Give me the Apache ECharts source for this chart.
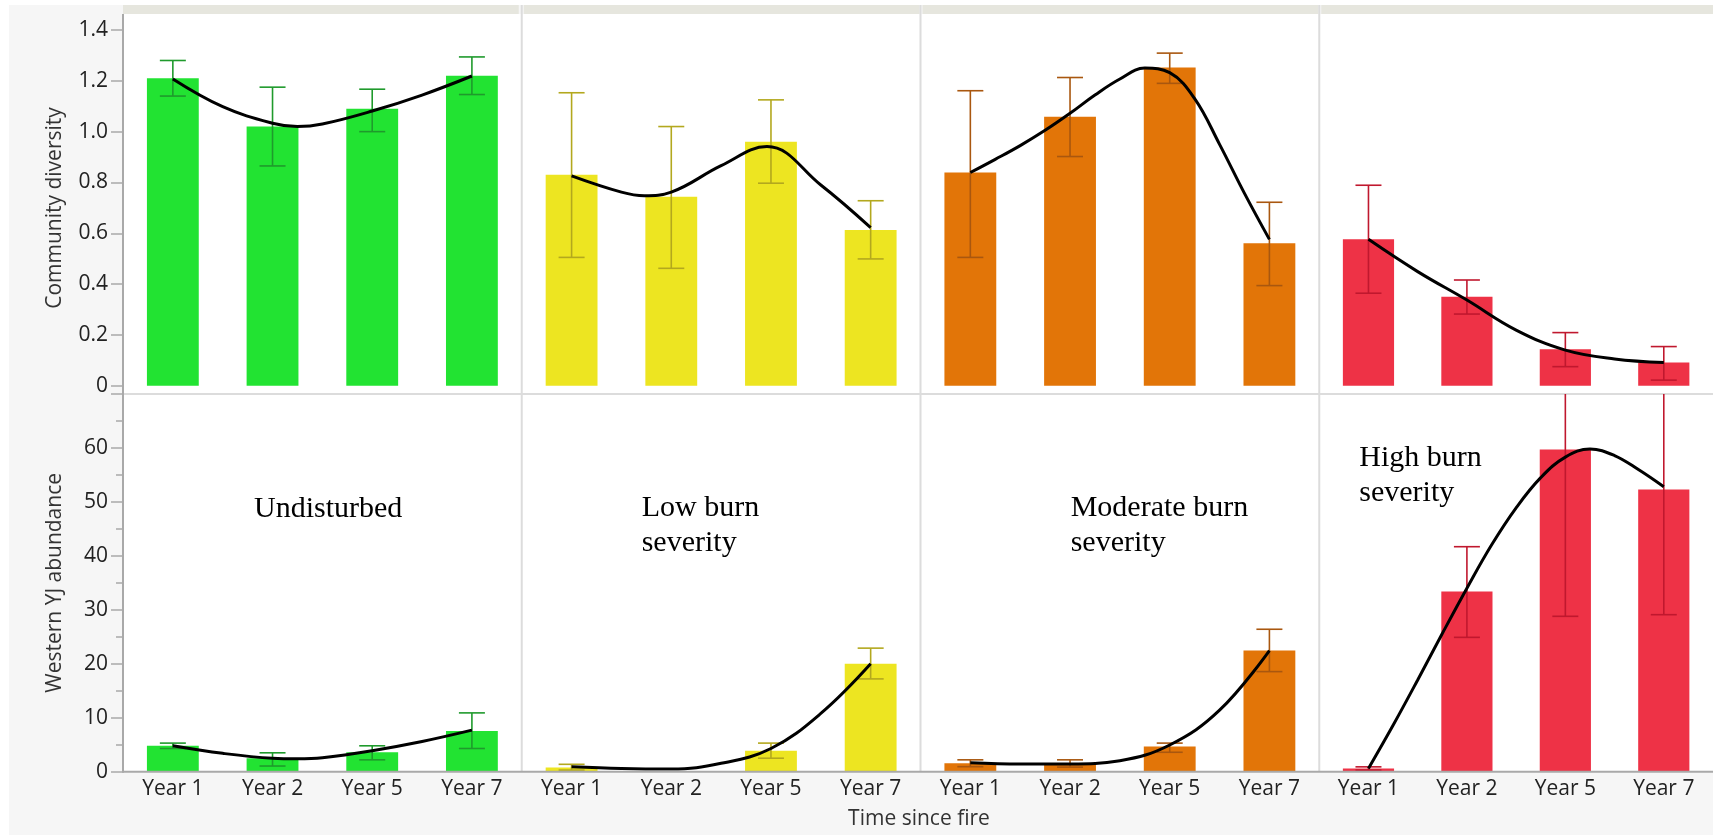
<!DOCTYPE html>
<html>
<head>
<meta charset="utf-8">
<script src="https://cdn.jsdelivr.net/npm/echarts@6/dist/echarts.min.js"></script>
<style>
html,body{margin:0;padding:0;background:#ffffff;}
#chart{width:1713px;height:835px;}
</style>
</head>
<body>
<div id="chart"></div>
<script>
// ---------------- DATA ----------------
const categories = ['Year 1', 'Year 2', 'Year 5', 'Year 7'];
const groupLabels = ['Undisturbed', 'Low burn\nseverity', 'Moderate burn\nseverity', 'High burn\nseverity'];
const groupColors = ['#22e332', '#ede521', '#e27508', '#ee3246'];
const errorColors = ['#1f9a2c', '#b3a81e', '#a9570f', '#c0182e'];

// Community diversity (top row): means, lower and upper error limits per group
const divMean = [
  [1.21, 1.02, 1.09, 1.22],
  [0.83, 0.744, 0.96, 0.613],
  [0.839, 1.059, 1.252, 0.561],
  [0.576, 0.35, 0.143, 0.091]
];
const divLow = [
  [1.14, 0.865, 1.0, 1.146],
  [0.505, 0.462, 0.797, 0.499],
  [0.505, 0.902, 1.19, 0.394],
  [0.364, 0.282, 0.075, 0.022]
];
const divHigh = [
  [1.28, 1.175, 1.167, 1.294],
  [1.153, 1.02, 1.125, 0.728],
  [1.161, 1.213, 1.309, 0.722],
  [0.789, 0.416, 0.209, 0.154]
];
// smoothed trend curves: [position in category units, value]
const divCurve = [
  [[0, 1.207], [0.5, 1.098], [1, 1.033], [1.25, 1.02], [1.5, 1.03], [2, 1.081], [2.5, 1.144], [3, 1.219]],
  [[0, 0.826], [0.5, 0.762], [0.73, 0.748], [1, 0.762], [1.5, 0.866], [1.96, 0.941], [2.5, 0.79], [3, 0.622]],
  [[0, 0.839], [0.25, 0.891], [0.5, 0.945], [0.75, 1.005], [1, 1.072], [1.25, 1.144], [1.5, 1.207], [1.75, 1.25], [2, 1.232], [2.25, 1.13], [2.5, 0.95], [2.75, 0.757], [3, 0.576]],
  [[0, 0.576], [0.5, 0.449], [1, 0.337], [1.5, 0.219], [2, 0.14], [2.5, 0.105], [3, 0.091]]
];

// Western YJ abundance (bottom row)
const abuMean = [
  [4.8, 2.5, 3.6, 7.55],
  [0.8, 0, 3.9, 20.0],
  [1.55, 1.55, 4.65, 22.45],
  [0.6, 33.4, 59.7, 52.3]
];
const abuLow = [
  [4.3, 1.05, 2.2, 4.3],
  [0.3, null, 2.5, 17.2],
  [0.93, 0.85, 3.6, 18.55],
  [0.3, 24.9, 28.8, 29.1]
];
const abuHigh = [
  [5.3, 3.5, 4.8, 10.9],
  [1.37, null, 5.3, 22.9],
  [2.2, 2.2, 5.3, 26.4],
  [0.9, 41.7, 90.6, 75.5]
];
const abuCurve = [
  [[0, 4.8], [0.5, 3.4], [1, 2.5], [1.25, 2.4], [1.5, 2.6], [2, 3.9], [2.5, 5.6], [3, 7.7]],
  [[0, 0.93], [0.5, 0.6], [1, 0.5], [1.5, 1.55], [2, 4.3], [2.5, 10.8], [3, 20.0]],
  [[0, 1.67], [0.5, 1.43], [1, 1.43], [1.5, 2.04], [2, 4.95], [2.5, 11.4], [3, 22.45]],
  [[0, 0.6], [0.25, 8.6], [0.5, 17.0], [0.75, 25.6], [1, 34.0], [1.25, 42.0], [1.5, 48.9], [1.75, 54.5], [2, 58.3], [2.25, 59.8], [2.5, 58.6], [2.75, 55.9], [3, 52.8]]
];

const divAxis = {min: 0, max: 1.4, interval: 0.2};
const abuAxis = {min: 0, max: 70, interval: 10};
const yTitles = ['Community diversity', 'Western YJ abundance'];
const xTitle = 'Time since fire';

// ---------------- LAYOUT ----------------
const L = 123, W = 398.75;
const PANEL_TOP = 14;
const TOP_GRID_T = 30, TOP_GRID_H = 355.7;
const BOT_GRID_T = 394, BOT_GRID_H = 377.7;
const BOT_AXIS_Y = BOT_GRID_T + BOT_GRID_H;
const RIGHT = L + 4 * W;
const FONT = '"Open Sans", "Noto Sans", sans-serif';
const SERIF = '"Liberation Serif", "DejaVu Serif", serif';
const AXIS_GREY = '#a9a9a9';
const LINE_GREY = '#dcdcdc';

const grids = [], xAxes = [], yAxes = [], series = [];

function errorRender(color) {
  return function (params, api) {
    const k = api.value(0), lo = api.value(1), hi = api.value(2);
    const pLo = api.coord([k, lo]);
    const pHi = api.coord([k, hi]);
    const cs = params.coordSys;
    let yTop = pHi[1];
    const clipped = yTop < cs.y;
    if (clipped) yTop = cs.y;
    const x = pLo[0];
    const half = 13;
    const style = {stroke: color, lineWidth: 1.6, fill: null};
    const children = [
      {type: 'line', shape: {x1: x, y1: pLo[1], x2: x, y2: yTop}, style: style},
      {type: 'line', shape: {x1: x - half, y1: pLo[1], x2: x + half, y2: pLo[1]}, style: style}
    ];
    if (!clipped) children.push({type: 'line', shape: {x1: x - half, y1: yTop, x2: x + half, y2: yTop}, style: style});
    return {type: 'group', children: children};
  };
}

for (let r = 0; r < 2; r++) {
  for (let p = 0; p < 4; p++) {
    const i = r * 4 + p;
    const isTop = r === 0;
    grids.push({
      left: L + W * p,
      width: W,
      top: isTop ? TOP_GRID_T : BOT_GRID_T,
      height: isTop ? TOP_GRID_H : BOT_GRID_H,
      containLabel: false
    });
    xAxes.push({
      type: 'category', gridIndex: i, data: categories, boundaryGap: true,
      axisLine: {show: false, onZero: false}, axisTick: {show: false},
      axisLabel: {show: !isTop, interval: 0, margin: 7, fontSize: 21, fontFamily: FONT, color: '#222'},
      splitLine: {show: false}
    });
    xAxes.push({type: 'value', gridIndex: i, min: -0.5, max: 3.5, show: false, axisLine: {onZero: false}});
    const ax = isTop ? divAxis : abuAxis;
    yAxes.push({
      type: 'value', gridIndex: i, min: ax.min, max: ax.max, interval: ax.interval,
      show: p === 0, position: 'left',
      axisLine: {show: false, onZero: false},
      axisTick: {show: true, length: 12, lineStyle: {color: AXIS_GREY, width: 1.5}},
      minorTick: {show: !isTop, splitNumber: 2, length: 7, lineStyle: {color: AXIS_GREY, width: 1.5}},
      axisLabel: {
        show: true, margin: 15, fontSize: 21, fontFamily: FONT, color: '#222',
        showMaxLabel: isTop,
        formatter: isTop ? (v => v === 0 ? '0' : v.toFixed(1)) : (v => String(v))
      },
      splitLine: {show: false}
    });

    const mean = isTop ? divMean[p] : abuMean[p];
    const low = isTop ? divLow[p] : abuLow[p];
    const high = isTop ? divHigh[p] : abuHigh[p];
    const curve = isTop ? divCurve[p] : abuCurve[p];

    series.push({
      type: 'bar', xAxisIndex: 2 * i, yAxisIndex: i, data: mean,
      barWidth: '52%', itemStyle: {color: groupColors[p]}, silent: true, z: 2
    });
    const errData = [];
    for (let k = 0; k < categories.length; k++) {
      if (low[k] != null && high[k] != null) errData.push([k, low[k], high[k]]);
    }
    series.push({
      type: 'custom', xAxisIndex: 2 * i, yAxisIndex: i, data: errData,
      encode: {x: 0, y: [1, 2]}, renderItem: errorRender(errorColors[p]), silent: true, z: 3
    });
    series.push({
      type: 'line', xAxisIndex: 2 * i + 1, yAxisIndex: i, data: curve,
      smooth: 0.4, showSymbol: false, symbol: 'none',
      lineStyle: {color: '#000', width: 3}, silent: true, z: 4
    });
  }
}

// ---------------- DECORATION ----------------
const graphics = [
  {type: 'rect', shape: {x: 9, y: 5, width: 1713, height: 835}, style: {fill: '#f6f6f6'}, z: -10, silent: true},
  {type: 'rect', shape: {x: L, y: PANEL_TOP, width: RIGHT - L, height: BOT_AXIS_Y - PANEL_TOP}, style: {fill: '#ffffff'}, z: -9, silent: true}
];
for (let p = 0; p < 4; p++) {
  graphics.push({type: 'rect', shape: {x: L + W * p + (p ? 2 : 0), y: 5, width: W - 3, height: PANEL_TOP - 5},
    style: {fill: '#e6e6de'}, z: -8, silent: true});
  if (p > 0) {
    graphics.push({type: 'line', shape: {x1: L + W * p, y1: 5, x2: L + W * p, y2: BOT_AXIS_Y},
      style: {stroke: LINE_GREY, lineWidth: 2}, z: -7, silent: true});
  }
}
graphics.push({type: 'line', shape: {x1: L, y1: BOT_GRID_T, x2: RIGHT, y2: BOT_GRID_T},
  style: {stroke: LINE_GREY, lineWidth: 2}, z: -7, silent: true});
graphics.push({type: 'line', shape: {x1: L, y1: PANEL_TOP, x2: L, y2: BOT_AXIS_Y + 1},
  style: {stroke: AXIS_GREY, lineWidth: 2}, z: 20, silent: true});
graphics.push({type: 'line', shape: {x1: L, y1: BOT_AXIS_Y, x2: RIGHT, y2: BOT_AXIS_Y},
  style: {stroke: AXIS_GREY, lineWidth: 2}, z: 20, silent: true});

// annotations
const annoPos = [[254, 491.6], [641.7, 490.6], [1070.7, 490.6], [1359.3, 440.6]];
for (let p = 0; p < 4; p++) {
  graphics.push({type: 'text', x: annoPos[p][0], y: annoPos[p][1], z: 30, silent: true,
    style: {text: groupLabels[p], fontSize: 30, fontFamily: SERIF, fill: '#000', lineHeight: 35,
      align: 'left', verticalAlign: 'top'}});
}
// axis titles
graphics.push({type: 'text', x: 55, y: (PANEL_TOP + BOT_GRID_T) / 2 + 4, rotation: Math.PI / 2, z: 30, silent: true,
  style: {text: yTitles[0], fontSize: 21, fontFamily: FONT, fill: '#333', align: 'center', verticalAlign: 'middle'}});
graphics.push({type: 'text', x: 55, y: (BOT_GRID_T + BOT_AXIS_Y) / 2, rotation: Math.PI / 2, z: 30, silent: true,
  style: {text: yTitles[1], fontSize: 21, fontFamily: FONT, fill: '#333', align: 'center', verticalAlign: 'middle'}});
graphics.push({type: 'text', x: 919, y: 819, z: 30, silent: true,
  style: {text: xTitle, fontSize: 21, fontFamily: FONT, fill: '#333', align: 'center', verticalAlign: 'middle'}});

const chart = echarts.init(document.getElementById('chart'), null, {renderer: 'canvas'});
chart.setOption({
  animation: false,
  backgroundColor: '#ffffff',
  grid: grids,
  xAxis: xAxes,
  yAxis: yAxes,
  series: series,
  graphic: {elements: graphics}
});
</script>
</body>
</html>
